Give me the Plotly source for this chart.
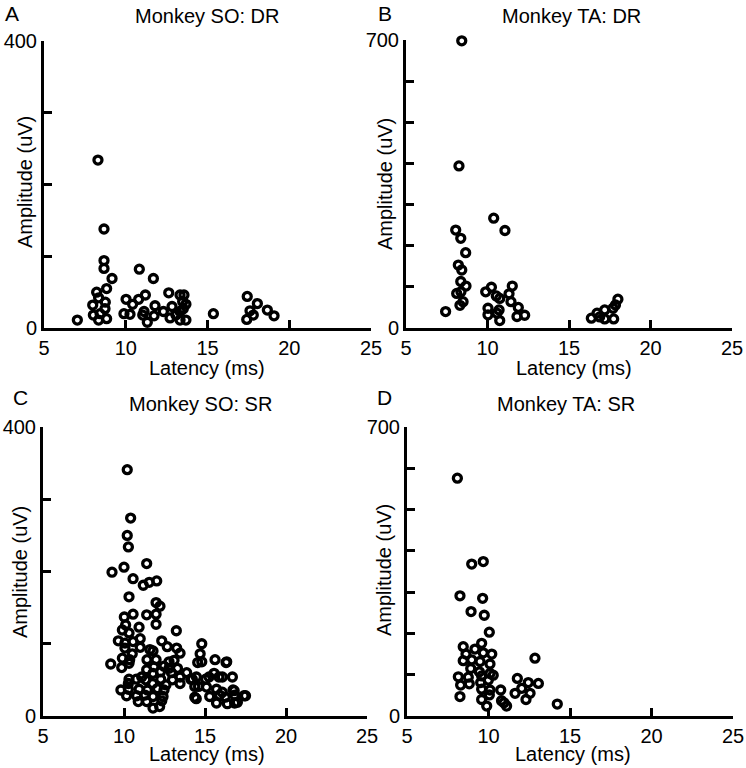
import plotly.graph_objects as go

# ---------------- data ----------------
so_dr_latency = [7.04, 8.30, 8.67, 8.67, 8.67, 9.16, 8.83, 8.22, 7.98, 8.75, 8.34, 8.02, 8.43, 8.34, 8.83, 8.73,
                 9.89, 10.02, 10.26, 10.42, 10.83, 10.79, 11.20, 11.12, 11.04, 11.32, 11.69, 11.79, 11.73, 12.30,
                 12.63, 12.83, 12.71, 13.32, 13.56, 13.48, 13.68, 13.32, 13.52, 13.32, 13.68, 13.07,
                 15.36, 17.43, 18.05, 17.60, 17.80, 17.40, 18.66, 19.07]
so_dr_amplitude = [11, 234, 138, 94, 83, 69, 55, 50, 32, 36, 42, 18, 20, 11, 13, 27,
                   20, 40, 19, 33, 82, 40, 46, 23, 18, 8, 69, 31, 17, 23,
                   49, 30, 14, 46, 46, 37, 33, 23, 27, 11, 11, 18,
                   20, 44, 34, 24, 18, 12, 25, 17]

ta_dr_latency = [8.42, 8.25, 10.38, 11.07, 8.05, 8.36, 8.66, 8.21, 8.42, 8.36, 8.68, 8.11, 8.37, 8.31, 8.50, 7.43,
                 9.89, 10.24, 10.03, 10.03, 10.54, 10.75, 10.58, 10.71, 10.75, 11.32, 11.52, 11.44, 11.89, 11.81, 12.28,
                 16.37, 16.72, 17.19, 17.70, 18.00, 17.19, 17.74, 16.88, 17.85]
ta_dr_amplitude = [698, 394, 267, 237, 238, 218, 183, 153, 141, 113, 102, 84, 88, 55, 64, 40,
                   88, 99, 48, 32, 78, 72, 36, 44, 18, 83, 102, 64, 50, 28, 31,
                   24, 36, 44, 48, 70, 22, 22, 27, 56]

so_sr_latency = [10.20, 10.41, 10.20, 10.27, 9.26, 10.00, 11.40, 10.56, 11.19, 11.56, 12.02, 10.31, 11.98, 12.22,
                 10.02, 10.56, 11.40, 11.98, 11.98, 10.10, 9.90, 10.93, 13.23, 10.31, 9.65, 10.06, 10.56, 11.00,
                 12.33, 10.06, 11.00, 11.60, 12.67, 13.25, 13.46, 14.80, 14.70, 10.51, 9.90, 11.79, 11.42, 11.98,
                 10.35, 9.18, 9.86, 10.31, 12.78, 13.09, 13.30, 12.78, 14.80, 15.62, 16.34, 11.85, 12.47, 11.40,
                 11.09, 11.79, 12.25, 12.93, 13.46, 13.87, 10.31, 10.76, 11.34, 12.27, 12.99, 14.12, 14.47, 15.04,
                 15.56, 16.07, 16.69, 10.27, 11.77, 12.59, 13.46, 9.81, 10.27, 10.93, 11.44, 12.06, 12.47, 14.37,
                 15.09, 15.71, 16.73, 10.16, 10.78, 11.30, 11.79, 12.41, 14.37, 15.29, 15.90, 16.25, 16.83, 17.41,
                 10.88, 11.40, 12.33, 15.71, 16.38, 16.83, 11.79, 12.20,
                 14.22, 14.60, 14.46, 15.25, 15.86, 16.07, 16.80, 17.00, 17.50, 16.30, 14.55]
so_sr_amplitude = [341, 274, 250, 234, 199, 206, 211, 190, 181, 185, 187, 165, 157, 152,
                   137, 141, 140, 141, 127, 126, 119, 123, 118, 115, 104, 101, 103, 107,
                   104, 94, 95, 92, 96, 94, 87, 100, 86, 86, 80, 90, 78, 78,
                   78, 72, 67, 73, 75, 77, 66, 66, 75, 78, 75, 68, 69, 64,
                   54, 59, 61, 60, 54, 60, 51, 51, 50, 51, 50, 51, 54, 51,
                   59, 54, 54, 45, 45, 43, 45, 36, 37, 37, 36, 38, 36, 41,
                   40, 37, 36, 28, 28, 29, 27, 27, 26, 27, 29, 26, 29, 28,
                   20, 20, 21, 18, 17, 18, 11, 13,
                   51, 41, 24, 54, 54, 33, 35, 19, 28, 74, 74]

ta_sr_latency = [8.09, 8.97, 9.68, 8.25, 9.64, 8.93, 9.74, 10.05, 8.45, 9.58, 9.17, 8.62, 9.68, 10.20, 8.45,
                 8.97, 9.48, 10.09, 12.85, 8.91, 9.44, 10.09, 8.15, 8.76, 9.58, 10.29, 8.29, 8.82, 9.52, 9.99,
                 11.77, 12.44, 13.06, 9.58, 10.09, 10.75, 12.04, 11.63, 12.55, 8.25, 9.58, 10.05, 10.80, 12.30,
                 11.11, 9.89, 14.22, 10.95]
ta_sr_amplitude = [576, 368, 374, 291, 285, 253, 244, 203, 168, 176, 162, 150, 153, 150, 134,
                   136, 132, 126, 140, 115, 107, 103, 95, 94, 97, 99, 75, 78, 81, 87,
                   91, 81, 79, 65, 63, 63, 67, 55, 55, 47, 40, 51, 37, 40,
                   24, 24, 29, 32]

x_ticks = [5, 10, 15, 20, 25]
so_y_ticks = [0, 100, 200, 300, 400]
so_y_text = ["0", "", "", "", "400"]
ta_y_ticks = [0, 100, 200, 300, 400, 500, 600, 700]
ta_y_text = ["0", "", "", "", "", "", "", "700"]

titles = ["Monkey SO: DR", "Monkey TA: DR", "Monkey SO: SR", "Monkey TA: SR"]
letters = ["A", "B", "C", "D"]

# ---------------- layout ----------------
W, H = 746, 768
FONT = "Liberation Sans, Arial, sans-serif"

def px_x(x):
    return x / W

def px_y(y):
    return 1 - y / H

panels = [
    dict(lat=so_dr_latency, amp=so_dr_amplitude, xd=(44, 371), yd=(328, 41), ymax=400,
         yt=so_y_ticks, ytt=so_y_text),
    dict(lat=ta_dr_latency, amp=ta_dr_amplitude, xd=(406, 732), yd=(328, 40), ymax=700,
         yt=ta_y_ticks, ytt=ta_y_text),
    dict(lat=so_sr_latency, amp=so_sr_amplitude, xd=(43, 367), yd=(716, 427), ymax=400,
         yt=so_y_ticks, ytt=so_y_text),
    dict(lat=ta_sr_latency, amp=ta_sr_amplitude, xd=(407, 733), yd=(716, 427), ymax=700,
         yt=ta_y_ticks, ytt=ta_y_text),
]

fig = go.Figure()
layout = dict(
    template="none",
    width=W, height=H, margin=dict(l=0, r=0, t=0, b=0, autoexpand=False),
    paper_bgcolor="white", plot_bgcolor="white", showlegend=False,
    font=dict(family=FONT, size=20, color="black"),
)

annotations = []
title_pos = [(207, 16), (571, 16), (200, 404), (566, 404)]
letter_pos = [(12, 14), (385, 14), (20, 397), (384, 397)]
ytitle_pos = [(25, 182), (385, 184), (20, 572), (384, 570)]
xtitle_pos = [(207, 368), (574, 368), (207, 754), (573, 754)]

for i, p in enumerate(panels):
    k = "" if i == 0 else str(i + 1)
    fig.add_trace(go.Scatter(
        x=p["lat"], y=p["amp"], mode="markers",
        xaxis="x" + k, yaxis="y" + k,
        marker=dict(symbol="circle-open", size=8, color="black", line=dict(width=3.3, color="black")),
        cliponaxis=False, hoverinfo="skip",
    ))
    common = dict(showline=True, linewidth=3, linecolor="black", showgrid=False, zeroline=False,
                  ticks="inside", ticklen=8, tickwidth=2.5, tickcolor="black", automargin=False,
                  tickfont=dict(family=FONT, size=20, color="black"), fixedrange=True)
    layout["xaxis" + k] = dict(domain=[px_x(p["xd"][0]), px_x(p["xd"][1])], range=[5, 25],
                               tickvals=x_ticks, anchor="y" + k, **common)
    layout["yaxis" + k] = dict(domain=[px_y(p["yd"][0]), px_y(p["yd"][1])], range=[0, p["ymax"]],
                               tickvals=p["yt"], ticktext=p["ytt"], anchor="x" + k, **common)
    annotations.append(dict(text=titles[i], x=px_x(title_pos[i][0]), y=px_y(title_pos[i][1]),
                            xref="paper", yref="paper", showarrow=False, xanchor="center", yanchor="middle",
                            font=dict(size=20)))
    annotations.append(dict(text=letters[i], x=px_x(letter_pos[i][0]), y=px_y(letter_pos[i][1]),
                            xref="paper", yref="paper", showarrow=False, xanchor="center", yanchor="middle",
                            font=dict(size=21)))
    annotations.append(dict(text="Amplitude (uV)", x=px_x(ytitle_pos[i][0]), y=px_y(ytitle_pos[i][1]),
                            xref="paper", yref="paper", showarrow=False, xanchor="center", yanchor="middle",
                            textangle=-90, font=dict(size=20)))
    annotations.append(dict(text="Latency (ms)", x=px_x(xtitle_pos[i][0]), y=px_y(xtitle_pos[i][1]),
                            xref="paper", yref="paper", showarrow=False, xanchor="center", yanchor="middle",
                            font=dict(size=20)))

layout["annotations"] = annotations
fig.update_layout(**layout)
fig.write_html("out.html", config={"displayModeBar": False},
               post_script="document.body.style.margin='0';document.body.style.overflow='hidden';")
